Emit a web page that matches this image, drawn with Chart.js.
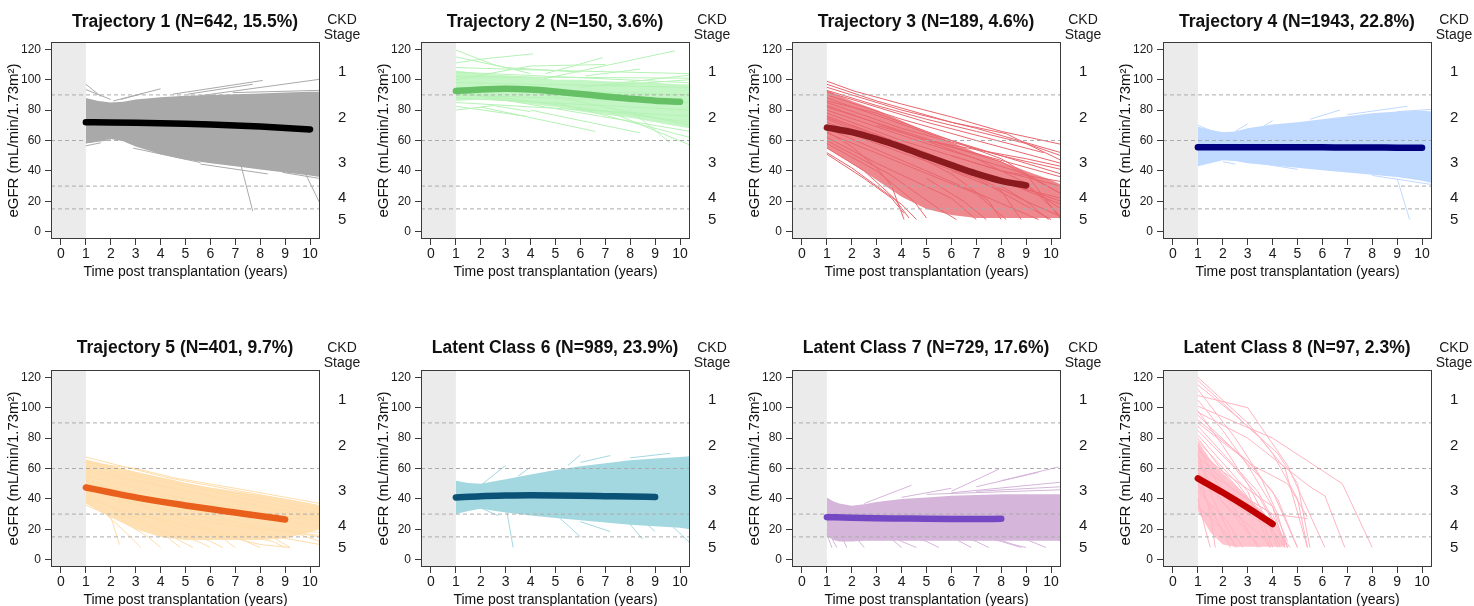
<!DOCTYPE html>
<html>
<head>
<meta charset="utf-8">
<script src="https://cdn.jsdelivr.net/npm/chart.js@4.4.1/dist/chart.umd.min.js"></script>
<style>
html,body{margin:0;padding:0;background:#fff;width:1474px;height:606px;overflow:hidden;}
.panel{position:absolute;width:370px;height:300px;}
canvas{display:block;}
</style>
</head>
<body>
<div class="panel" style="left:0px;top:0px"><canvas id="c0" width="370" height="300"></canvas></div>
<div class="panel" style="left:370px;top:0px"><canvas id="c1" width="370" height="300"></canvas></div>
<div class="panel" style="left:741px;top:0px"><canvas id="c2" width="370" height="300"></canvas></div>
<div class="panel" style="left:1112px;top:0px"><canvas id="c3" width="370" height="300"></canvas></div>
<div class="panel" style="left:0px;top:328px"><canvas id="c4" width="370" height="300"></canvas></div>
<div class="panel" style="left:370px;top:328px"><canvas id="c5" width="370" height="300"></canvas></div>
<div class="panel" style="left:741px;top:328px"><canvas id="c6" width="370" height="300"></canvas></div>
<div class="panel" style="left:1112px;top:328px"><canvas id="c7" width="370" height="300"></canvas></div>
<script>
// ---------------- DATA ----------------
const panelTitles = ['Trajectory 1 (N=642, 15.5%)','Trajectory 2 (N=150, 3.6%)','Trajectory 3 (N=189, 4.6%)','Trajectory 4 (N=1943, 22.8%)',
  'Trajectory 5 (N=401, 9.7%)','Latent Class 6 (N=989, 23.9%)','Latent Class 7 (N=729, 17.6%)','Latent Class 8 (N=97, 2.3%)'];
const xTitle = 'Time post transplantation (years)';
const yTitle = 'eGFR (mL/min/1.73m\u00B2)';
const ckdHeader = ['CKD', 'Stage'];
const xTicks = [0,1,2,3,4,5,6,7,8,9,10];
const yTicks = [0,20,40,60,80,100,120];
const ckdCuts = [90,60,30,15];
const ckdStageMid = [7.5,22.5,45,75,105];
const ckdStageLabels = ['5','4','3','2','1'];
const xMin = -0.4, xMax = 10.4, yMin = -4.8, yMax = 124.8;
const shadeUntil = 1;

// mean trajectories
const meanTime1 = [1,2,3,4,5,6,7,8,9,10];
const meanEGFR1 = [72.0,71.9,71.7,71.4,71.0,70.5,69.9,69.2,68.3,67.3];
const meanTime2 = [1,2,3,4,5,6,7,8,9,10];
const meanEGFR2 = [92.5,93.5,94.0,93.5,92.2,90.6,89.0,87.5,86.2,85.5];
const meanTime3 = [1,2,3,4,5,6,7,8,9];
const meanEGFR3 = [68.5,65.5,61.0,55.6,49.6,43.8,38.2,33.4,30.4];
const meanTime4 = [1,2,3,4,5,6,7,8,9,10];
const meanEGFR4 = [55.6,55.6,55.6,55.5,55.5,55.5,55.4,55.4,55.3,55.3];
const meanTime5 = [1,2,3,4,5,6,7,8,9];
const meanEGFR5 = [47.5,44.2,41.0,38.2,35.7,33.3,31.0,28.7,26.5];
const meanTime6 = [1,2,3,4,5,6,7,8,9];
const meanEGFR6 = [41.0,41.8,42.2,42.4,42.3,42.1,41.8,41.5,41.3];
const meanTime7 = [1,2,3,4,5,6,7,8];
const meanEGFR7 = [28.0,27.6,27.3,27.1,26.9,26.8,26.8,26.9];
const meanTime8 = [1,2,3,4];
const meanEGFR8 = [53.5,44.2,34.2,23.5];

// dense envelope of individual trajectories
const bandTime1 = [1,1.5,2,2.5,3,4,5,6,7,8,9,10,10.4];
const bandUpper1 = [88,86,85,85.5,87,88.5,89.5,90,90.5,91,91.5,92,92];
const bandLower1 = [58,59.5,61,59.5,56,51,47.5,45,43,41,39,37,36];
const bandTime2 = [1,2,3,4,5,6,7,8,9,10,10.4];
const bandUpper2 = [106,104,103,102,100,100,99,98.5,98,97,97];
const bandLower2 = [86,87,86,84,82,79,77,75,72,69,68];
const bandTime3 = [1,2,3,4,5,6,7,8,9,10,10.4];
const bandUpper3 = [93,86,80,73,66,59,52,46,40,34,31];
const bandLower3 = [55,45,34,23,15,11,9,9,9,9,9];
const bandTime4 = [1,1.5,2,2.5,3,4,5,6,7,8,9,10,10.4];
const bandUpper4 = [69,67,65.5,66,68,70.5,72,74,76,78,79,79.5,79];
const bandLower4 = [43,45,47,46.5,45,43.5,42,40.5,39,37.5,36,33.5,32];
const bandTime5 = [1,2,3,4,4.5,5,6,7,8,9,10,10.4];
const bandUpper5 = [66,62,57.5,54,52.5,50.5,47.5,45,42.5,40,37,35.5];
const bandLower5 = [37,28,20,15,14,13,13,13,13,14,18,20];
const bandTime6 = [1,1.5,2,3,4,5,6,7,8,9,10,10.4];
const bandUpper6 = [52,50.5,50,53,56,59,61.5,63.5,65.5,66.5,67.5,68];
const bandLower6 = [30,32,33.5,31,29,27.5,26,24.5,23,22,21,20];
const bandTime7 = [1,1.25,1.5,2,2.5,3,4,5,6,7,8,9,10,10.4];
const bandUpper7 = [41,38.5,37,35.5,36.5,38,40,41,42,42.5,43,43,43,43];
const bandLower7 = [16,13,12,12,12.5,12.5,12.5,12.5,12.5,12.5,12.5,12.5,12.5,12.5];
const bandTime8 = [1,1.5,2,2.5,3,3.5,4,4.5];
const bandUpper8 = [78,66,57,49,41,33,25,12];
const bandLower8 = [32,18,10,8.5,8.5,8.5,8.5,8.5];

// individual trajectories that stand out (time, eGFR, time, eGFR, ...)
const traj1 = [
 [1,97, 1.6,89],[1,93.5, 2,87],[2.1,86, 4,94],[2.4,87, 3.3,91],[4.5,90.5, 8.1,99.5],
 [5.1,90.5, 7.7,97],[5.6,89.5, 10.4,100.3],[6.9,91.5, 10.4,93],[1,58.5, 2,60.5],[1,56.5, 1.6,58.5],
 [2.9,55, 5.6,45.5],[5.6,44.5, 8.3,38],[7.2,45.5, 7.7,13.5],[9.6,45.5, 10.4,18.5],[8.9,39, 10.4,35],[7.5,44, 9.2,39]
];
const traj2 = [
 [1,119.5, 2.5,110, 4,104],[1,115, 3,108, 6,105],[2,113.5, 4.1,117],[1,111, 2,113.5],[4.5,100.5, 9.8,119],
 [4.6,104, 6.9,114.5],[6.2,102.5, 8.4,107],[1,108, 5,106, 10.4,104],[1,102, 10.4,101],[1,98, 10.4,95],
 [1,95, 10.4,90],[1,90, 10.4,85],[1,88, 10.4,80],[1,85, 10.4,76],[1,82.5, 3.8,76],[1,80, 2.5,83, 4,79],
 [2,82, 6.6,66],[4,80, 8.4,65],[5,85, 10.4,62],[7,80, 10.4,57],[8,80, 9.6,58.5],[1,105, 10.4,98],
 [3,96, 10.4,70],[1,92, 10.4,66],[2,90, 10.4,72],[6,95, 10.4,103],[7,96, 10.4,100],[1,100, 4,109, 7,110]
];
const traj3 = [
 [1,99, 2.1,92.5, 4,84, 6,75.5, 8,66, 10.4,57.5],[1,97, 3,86, 6,72, 8.2,64.5, 9,58, 10.4,47],[1,95, 4,80, 7,68, 10.4,52],
 [1,92, 5,72, 9.7,52],[1,90, 4,74, 7,60, 10.4,45],[1,88, 5,65, 10.4,38],[1,85, 4,68, 8,50, 10.4,41],
 [1,82, 6,56, 10.4,36],[1,80, 5,58, 9,38, 10.4,25],[1,78, 4,60, 8,40, 10.4,30],[1,75, 6,45, 10.4,20],
 [1,72, 5,48, 9,30, 10.4,15],[1,70, 4,52, 7,35, 10,8],[1,68, 5,40, 8.5,15, 9.5,8],[1,65, 4,45, 7,25, 8.2,8],
 [1,62, 3,45, 6,22, 7,8],[1,60, 3.5,38, 5.5,15, 6.2,8],[1,58, 3,40, 4.5,20, 5,9],[1,55, 2.5,40, 3.7,22, 4.3,9],
 [1,52, 2,42, 3,30, 4,18, 4.6,8],[1,51, 2.5,35, 3.6,22, 4.1,12],[1,86, 3,78, 6,60, 8,48, 9,38, 10.4,8],
 [3,70, 8,46, 10.4,25],[5,60, 9,48, 10.4,43],[1,83, 7,48, 9,32, 10.4,10],[1,76, 3,64, 5,50, 7,36, 9,20, 9.9,8],
 [6,40, 8,27, 8.8,8],[1,74, 4,55, 6,38, 7.5,20, 8,8],[2,70, 5,52, 8,32, 10.4,22],[4,55, 7,40, 10.4,18],
 [1,66, 2,56, 3,42, 3.6,30, 4.1,8],[5,35, 6.5,20, 7.4,8],[8,30, 9,20, 10.4,10],[1,93, 3,83, 5,74, 7,66, 9,58, 10.4,50],
 [6,50, 8,40, 10.4,33]
];
const traj4 = [
 [9,35, 9.5,8],[2.5,66, 3,71],[3.5,68, 4,73],[5.5,74, 6.7,80],[7,77, 9.4,82.5],[9,79, 10.4,80.5],
 [2,46, 2.5,44.5],[3.5,45, 5,41],[8,37, 10.4,31],[1,70, 1.6,66]
];
const traj5 = [
 [1,67.5, 4.4,53.5, 10.4,35.5],[1,65, 5,50, 10.4,33],[1,62, 6,45, 10.4,30],[1,58, 10.4,28],[1,55, 5,40, 10.4,25],
 [1,50, 6,33, 10.4,22],[1,45, 5,30, 10.4,15],[1,40, 3,30, 6,18, 8,10, 9.2,8],[1,38, 2,28, 2.35,10],
 [1,36, 1.8,30, 2.8,15, 3.2,8],[1,42, 3,28, 4.5,15, 5.3,8],[1,48, 4,32, 6,20, 7,8],[1,52, 5,35, 8,20, 9.2,8],
 [1,44, 2.5,30, 4,18, 4.8,8],[2,40, 4,25, 6,12, 6.5,8],[3,30, 6,20, 8.5,12, 9,8],[1,60, 7,38, 10.4,26],
 [5,22, 7,15, 8,8],[8,18, 9,14, 10.4,10],[9,20, 10.4,12],[1,46, 3,36, 5,27, 7,22, 10.4,16],[6,25, 8,20, 10.4,18],
 [2.5,25, 3.5,15, 4,8],[4,20, 5.5,12, 6,8],[1,64, 3,60, 4.5,54, 7,47, 10.4,37]
];
const traj6 = [
 [2,49, 3,62],[3.5,55, 4,61],[5.5,62, 6,69],[6,64, 7.2,68.5],[8,67, 9.6,70],[3,36, 3.3,8],[5,30, 6,15],
 [6,25, 7.2,18.5],[7.8,27, 8.5,13.5],[8.5,26, 9,18.5],[9.5,25, 10.4,11],[2,34, 2.7,29]
];
const traj7 = [
 [2.5,37, 4.4,49],[4,41, 6,47],[6,45, 7.9,59.5],[7,48, 9.5,57.5],[8,52, 10.3,61],[6,44, 10.4,51],[7,45, 10.4,48],
 [5,43, 10.4,46],[1,20, 1.4,8],[1,25, 1.6,15, 1.8,8],[1,30, 2,18, 2.5,8],[2,25, 3.5,15, 4,8],[3,22, 5,12, 5.5,8],
 [4,25, 6,15, 6.8,8],[5,22, 7,12, 7.5,8],[6,20, 8,12, 8.8,8],[8,20, 9.8,8],[9,25, 10.4,12],[1,17, 1.2,8],
 [3,20, 4,12, 4.6,8],[7,18, 8.5,10, 9,8]
];
const traj8 = [
 [1,120, 1.8,108, 3,90, 4,70, 5,40, 5.4,8],[1,115, 2.5,95, 4.2,70, 5,50, 5.5,8],[1,108, 3,100, 4.6,62, 6.1,8],
 [1,101, 4,80, 6.8,50, 8,8],[1,97, 3,80, 5.5,48, 6.1,42, 6.9,8],[1,90, 3.2,62, 4.6,50, 5.4,28],
 [1,95, 2.6,70, 4,45, 5,8],[1,85, 2.5,60, 3.5,40, 4.6,8],[1,80, 2,58, 3.3,35, 4.5,8],[1,105, 2,85, 3,62, 4,35, 4.5,8],
 [1,112, 2.5,80, 3.5,55, 4.2,30, 4.6,8],[1,98, 2,75, 3,50, 3.8,25, 4.2,8],[1,75, 1.8,50, 2.8,25, 3.4,8],
 [1,70, 1.6,40, 2.2,20, 2.5,8],[1,65, 2,38, 3,18, 3.5,8],[1,60, 1.5,30, 1.7,8],[1,55, 2.5,30, 3.6,15, 3.9,8],
 [1,50, 1.8,25, 2.3,8],[1,45, 2.2,25, 2.8,8],[1,40, 1.3,20, 1.5,8],[1,35, 2,20, 2.6,8],[1,62, 3,40, 4,30, 4.6,8],
 [1,78, 2.6,50, 3.5,30, 4,8],[1,88, 2,70, 3.4,45, 4.4,15, 4.7,8],[1,68, 2.5,45, 4,30, 5.4,27],
 [1,82, 2.2,60, 3,45, 3.6,20, 3.9,8],[1,92, 3,65, 4.2,40, 5,8],[1,118, 2,103, 3.5,80, 4.5,60, 5.4,8],
 [1,72, 2,58, 4,35, 4.6,12],[1,57, 2,42, 3,30, 4,20, 4.3,8]
];

// ---------------- STYLE ----------------
const lineColors = ['#A9A9A9','#B5F2B5','#E8666E','#BFD9FF','#FFDDAB','#A4D8E1','#D5B5DA','#FFB5C2'];
const meanColors = ['#000000','#66C166','#8B1A1E','#00007F','#E8601C','#0B5277','#7448C4','#C00000'];
const bandAlpha = [1,0.8,0.78,1,0.9,1,1,0.8];
const FONT = '"Liberation Sans", Arial, Helvetica, sans-serif';
Chart.defaults.font.family = FONT;
Chart.defaults.color = '#1a1a1a';

const meanTimes = [meanTime1,meanTime2,meanTime3,meanTime4,meanTime5,meanTime6,meanTime7,meanTime8];
const meanVals = [meanEGFR1,meanEGFR2,meanEGFR3,meanEGFR4,meanEGFR5,meanEGFR6,meanEGFR7,meanEGFR8];
const bandTimes = [bandTime1,bandTime2,bandTime3,bandTime4,bandTime5,bandTime6,bandTime7,bandTime8];
const bandUppers = [bandUpper1,bandUpper2,bandUpper3,bandUpper4,bandUpper5,bandUpper6,bandUpper7,bandUpper8];
const bandLowers = [bandLower1,bandLower2,bandLower3,bandLower4,bandLower5,bandLower6,bandLower7,bandLower8];
const trajs = [traj1,traj2,traj3,traj4,traj5,traj6,traj7,traj8];

function pairs(a){ const p=[]; for(let i=0;i<a.length;i+=2) p.push({x:a[i],y:a[i+1]}); return p; }
function zip(t,v){ return t.map((x,k)=>({x:x,y:v[k]})); }
function rgba(hex,a){ const n=parseInt(hex.slice(1),16); return 'rgba('+((n>>16)&255)+','+((n>>8)&255)+','+(n&255)+','+a+')'; }

const shadePlugin = {
  id:'shade',
  beforeDatasetsDraw(chart){
    const {ctx, chartArea:a, scales:{x}} = chart;
    const x1 = x.getPixelForValue(shadeUntil);
    ctx.save(); ctx.fillStyle = '#EBEBEB';
    ctx.fillRect(a.left, a.top, x1 - a.left, a.bottom - a.top);
    ctx.restore();
  }
};
const framePlugin = {
  id:'frame',
  afterDraw(chart){
    const {ctx, chartArea:a} = chart;
    ctx.save();
    ctx.strokeStyle = '#3a3a3a'; ctx.lineWidth = 1;
    ctx.strokeRect(Math.round(a.left)+0.5, Math.round(a.top)+0.5, Math.round(a.right-a.left)-1, Math.round(a.bottom-a.top)-1);
    ctx.fillStyle = '#1a1a1a'; ctx.font = '14px ' + FONT; ctx.textAlign = 'center'; ctx.textBaseline = 'middle';
    const cx = a.right + 22;
    ctx.fillText(ckdHeader[0], cx, 20);
    ctx.fillText(ckdHeader[1], cx, 35);
    ctx.restore();
  }
};

for (let i = 0; i < 8; i++) {
  const row = i < 4 ? 0 : 1;
  const ds = [];
  ds.push({data: zip(meanTimes[i], meanVals[i]), borderColor: meanColors[i], borderWidth: 6.5, borderCapStyle:'round',
    borderJoinStyle:'round', cubicInterpolationMode:'monotone', pointRadius:0, fill:false, order:1});
  ckdCuts.forEach(v => ds.push({data:[{x:xMin,y:v},{x:xMax,y:v}], borderColor:'#ABABAB', borderWidth:1, borderDash:[4,3],
    pointRadius:0, fill:false, order:2}));
  trajs[i].forEach(tr => ds.push({data: pairs(tr), borderColor: lineColors[i], borderWidth:1, pointRadius:0, tension:0, fill:false, order:3}));
  ds.push({data: zip(bandTimes[i], bandUppers[i]), borderWidth:0, borderColor:'rgba(0,0,0,0)', backgroundColor: rgba(lineColors[i], bandAlpha[i]),
    fill:'+1', pointRadius:0, tension:0, order:4});
  ds.push({data: zip(bandTimes[i], bandLowers[i]), borderWidth:0, borderColor:'rgba(0,0,0,0)', pointRadius:0, tension:0, fill:false, order:4});

  new Chart(document.getElementById('c'+i), {
    type:'line',
    data:{datasets: ds},
    plugins:[shadePlugin, framePlugin],
    options:{
      responsive:false, animation:false, events:[],
      layout:{padding:0},
      plugins:{
        legend:{display:false}, tooltip:{enabled:false},
        title:{display:true, text: panelTitles[i], color:'#111', font:{size:17.5, weight:'bold', family: FONT},
          padding: row === 0 ? {top:11.5, bottom:9.5} : {top:9.5, bottom:11.5}}
      },
      scales:{
        x:{type:'linear', min:xMin, max:xMax,
          afterBuildTicks: s => { s.ticks = xTicks.map(v => ({value:v})); },
          afterFit: s => { s.height = 61; },
          grid:{display:true, drawOnChartArea:false, drawTicks:true, tickLength:6, color:'#3a3a3a', lineWidth:1},
          border:{display:false},
          ticks:{font:{size:14}, color:'#1a1a1a', padding:1, maxRotation:0, autoSkip:false},
          title:{display:true, text:xTitle, color:'#111', font:{size:14}, padding:{top:0, bottom:19.6}}
        },
        y:{type:'linear', position:'left', min:yMin, max:yMax,
          afterBuildTicks: s => { s.ticks = yTicks.map(v => ({value:v})); },
          afterFit: s => { s.width = 51; },
          grid:{display:true, drawOnChartArea:false, drawTicks:true, tickLength:6, color:'#3a3a3a', lineWidth:1},
          border:{display:false},
          ticks:{font:{size:12}, color:'#1a1a1a', padding:4, autoSkip:false},
          title:{display:true, text:yTitle, color:'#111', font:{size:15}, padding:{top:5, bottom:0}}
        },
        ckd:{type:'linear', position:'right', min:yMin, max:yMax,
          afterBuildTicks: s => { s.ticks = ckdStageMid.map(v => ({value:v})); },
          afterFit: s => { s.width = 50; },
          grid:{display:false, drawOnChartArea:false, drawTicks:false, tickLength:0},
          border:{display:false},
          ticks:{font:{size:15}, color:'#1a1a1a', padding:18, autoSkip:false,
            callback: v => ckdStageLabels[ckdStageMid.indexOf(v)]}
        }
      }
    }
  });
}
</script>
</body>
</html>
